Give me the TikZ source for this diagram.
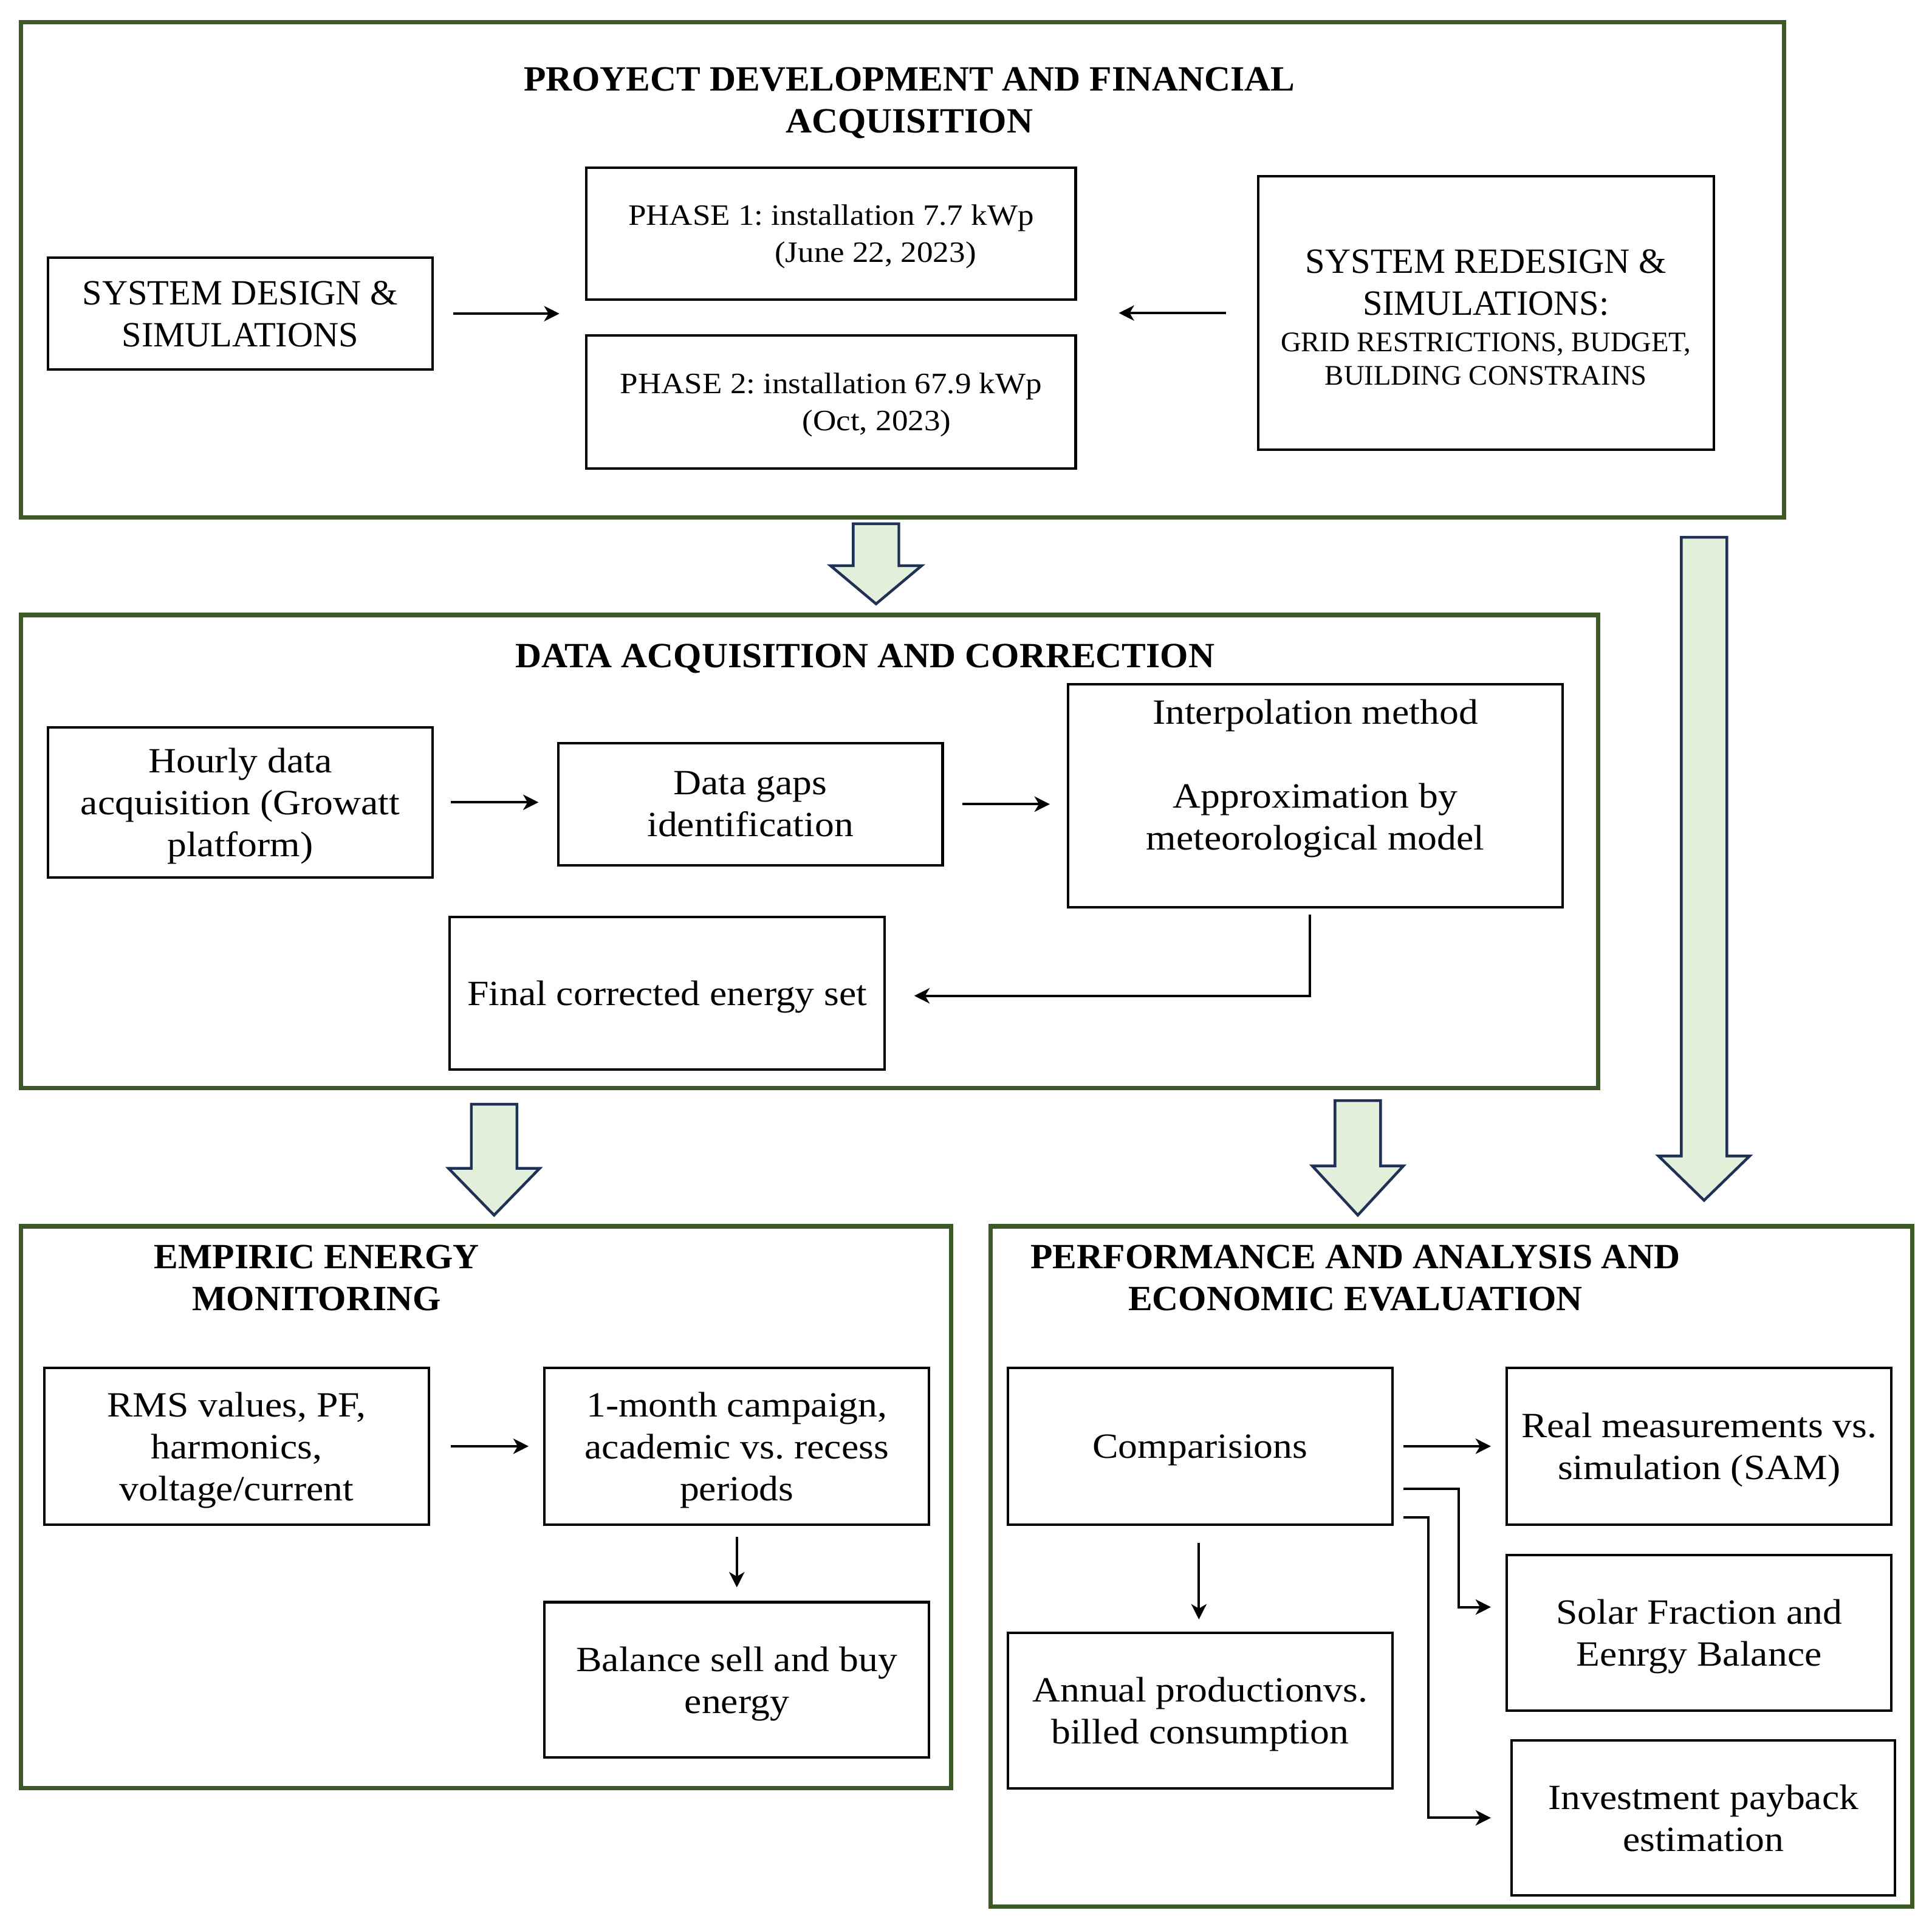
\documentclass[tikz,border=0pt]{standalone}
\usepackage{fontspec}
\setmainfont{Liberation Serif}[FakeStretch=1.09]
\newfontfamily\capsf{Liberation Serif}[FakeStretch=1.0]
\newfontfamily\ttlf{Liberation Serif}[FakeStretch=1.02]
\usetikzlibrary{arrows.meta}
\definecolor{frameg}{RGB}{61,89,37}
\definecolor{navyb}{RGB}{31,50,85}
\definecolor{lgreen}{RGB}{226,239,218}
\newcommand\mainsz{\fontsize{14.4}{17}\selectfont}
\newcommand\phsz{\fontsize{12}{15}\selectfont}
\newcommand\smsz{\fontsize{11.5}{13.5}\selectfont}
\frenchspacing
\tikzset{
 frame/.style={draw=frameg, line width=1.8pt},
 box/.style 2 args={draw=black, line width=1pt, minimum width=#1*0.5pt, minimum height=#2*0.5pt, inner sep=0pt, align=center, font=\mainsz, text depth=0pt},
 ttl/.style={font=\mainsz\ttlf\bfseries, align=center, inner sep=0pt},
 arr/.style={-{Stealth[length=6.2pt,width=6.2pt,inset=1.8pt]}, line width=1pt},
 barrowstyle/.style={draw=navyb, fill=lgreen, line width=1.1pt, line join=miter},
}
\newcommand\barrow[4]{\draw[barrowstyle] (#1-18.5,#2) -- (#1+18.5,#2) -- (#1+18.5,#3) -- (#1+37,#3) -- (#1,#4) -- (#1-37,#3) -- (#1-18.5,#3) -- cycle;}
\begin{document}
\begin{tikzpicture}[x=0.5pt,y=-0.5pt]
\useasboundingbox (0,0) rectangle (1568,1566);
% frames
\draw[frame] (17,18) rectangle (1448,420);
\draw[frame] (17,499) rectangle (1297,883);
\draw[frame] (17,995) rectangle (772,1451);
\draw[frame] (804,995) rectangle (1552,1547);
% titles
\node[ttl] (t1) at (738,83.5) {PROYECT DEVELOPMENT AND FINANCIAL\\ACQUISITION};
\node[ttl] (t2) at (702,534.5) {DATA ACQUISITION AND CORRECTION};
\node[ttl] (t3) at (257,1037) {EMPIRIC ENERGY\\MONITORING};
\node[ttl] (t4) at (1100,1037) {PERFORMANCE AND ANALYSIS AND\\ECONOMIC EVALUATION};
% top section
\node[box={312}{91},font=\mainsz\capsf] (sysd) at (195,254.5) {SYSTEM DESIGN \&\\SIMULATIONS};
\node[box={397}{107},font=\phsz] (ph1) at (674.5,189.5) {PHASE 1: installation 7.7 kWp\\\hspace*{36pt}(June 22, 2023)};
\node[box={397}{108},font=\phsz] (ph2) at (674.5,326) {PHASE 2: installation 67.9 kWp\\\hspace*{37pt}(Oct, 2023)};
\node[box={370}{222},font=\mainsz\capsf] (redes) at (1206,254) {\mbox{}\\[-4pt]SYSTEM REDESIGN \&\\SIMULATIONS:\\[-2pt]{\smsz\capsf GRID RESTRICTIONS, BUDGET,}\\[-3.5pt]{\smsz\capsf BUILDING CONSTRAINS}};
\draw[arr, shorten <=8pt, shorten >=10.5pt] (sysd.east) -- (sysd.east -| ph1.west);
\draw[arr, shorten <=12.5pt, shorten >=17pt] (redes.west) -- (redes.west -| ph1.east);
% middle section
\node[box={312}{122}] (hourly) at (195,651) {Hourly data\\acquisition (Growatt\\platform)};
\node[box={312}{99}] (gaps) at (609,652.5) {Data gaps\\identification};
\node[box={401}{181}] (interp) at (1067.5,645.5) {Interpolation method\\[17pt]Approximation by\\meteorological model\\\mbox{}};
\node[box={353}{124}] (final) at (541.5,806) {Final corrected energy set};
\draw[arr, shorten <=7pt, shorten >=7.5pt] (hourly.east) -- (hourly.east -| gaps.west);
\draw[arr, shorten <=7.5pt, shorten >=7pt] (gaps.east) -- (gaps.east -| interp.west);
\draw[arr] ([xshift=-2.25pt,yshift=-2.5pt]interp.south) |- ([xshift=11.5pt,yshift=-1pt]final.east);
% bottom left
\node[box={312}{127}] (rms) at (192,1173.5) {RMS values, PF,\\harmonics,\\voltage/current};
\node[box={312}{127}] (month) at (598,1173.5) {1-month campaign,\\academic vs. recess\\periods};
\node[box={312}{126}] (balance) at (598,1363) {Balance sell and buy\\energy};
\draw[arr, shorten <=8.5pt, shorten >=6pt] (rms.east) -- (rms.east -| month.west);
\draw[arr, shorten <=4.5pt, shorten >=5.5pt] (month.south) -- (balance.north);
% bottom right
\node[box={312}{127}] (comp) at (974,1173.5) {Comparisions};
\node[box={312}{126}] (annual) at (974,1388) {Annual productionvs.\\billed consumption};
\node[box={312}{127}] (real) at (1379,1173.5) {Real measurements vs.\\simulation (SAM)};
\node[box={312}{126}] (solar) at (1379,1325) {Solar Fraction and\\Eenrgy Balance};
\node[box={311}{126}] (invest) at (1382.5,1475) {Investment payback\\estimation};
\draw[arr, shorten <=7pt, shorten >=5pt] ([xshift=-0.5pt]comp.south) -- ([xshift=-0.5pt]annual.north);
\draw[arr, shorten <=4pt, shorten >=6pt] (comp.east) -- (comp.east -| real.west);
\draw[arr] ([xshift=4pt,yshift=-17.25pt]comp.east) -- ++(22.5pt,0) |- ([xshift=-6pt,yshift=10.5pt]solar.west);
\draw[arr] ([xshift=4pt,yshift=-28.75pt]comp.east) -- ++(10pt,0) |- ([xshift=-8pt]invest.west);
% block arrows
\barrow{711}{425}{459}{490}
\barrow{401}{896}{948}{986}
\barrow{1102}{893}{946}{986}
\barrow{1383}{436}{938}{974}
\end{tikzpicture}
\end{document}
